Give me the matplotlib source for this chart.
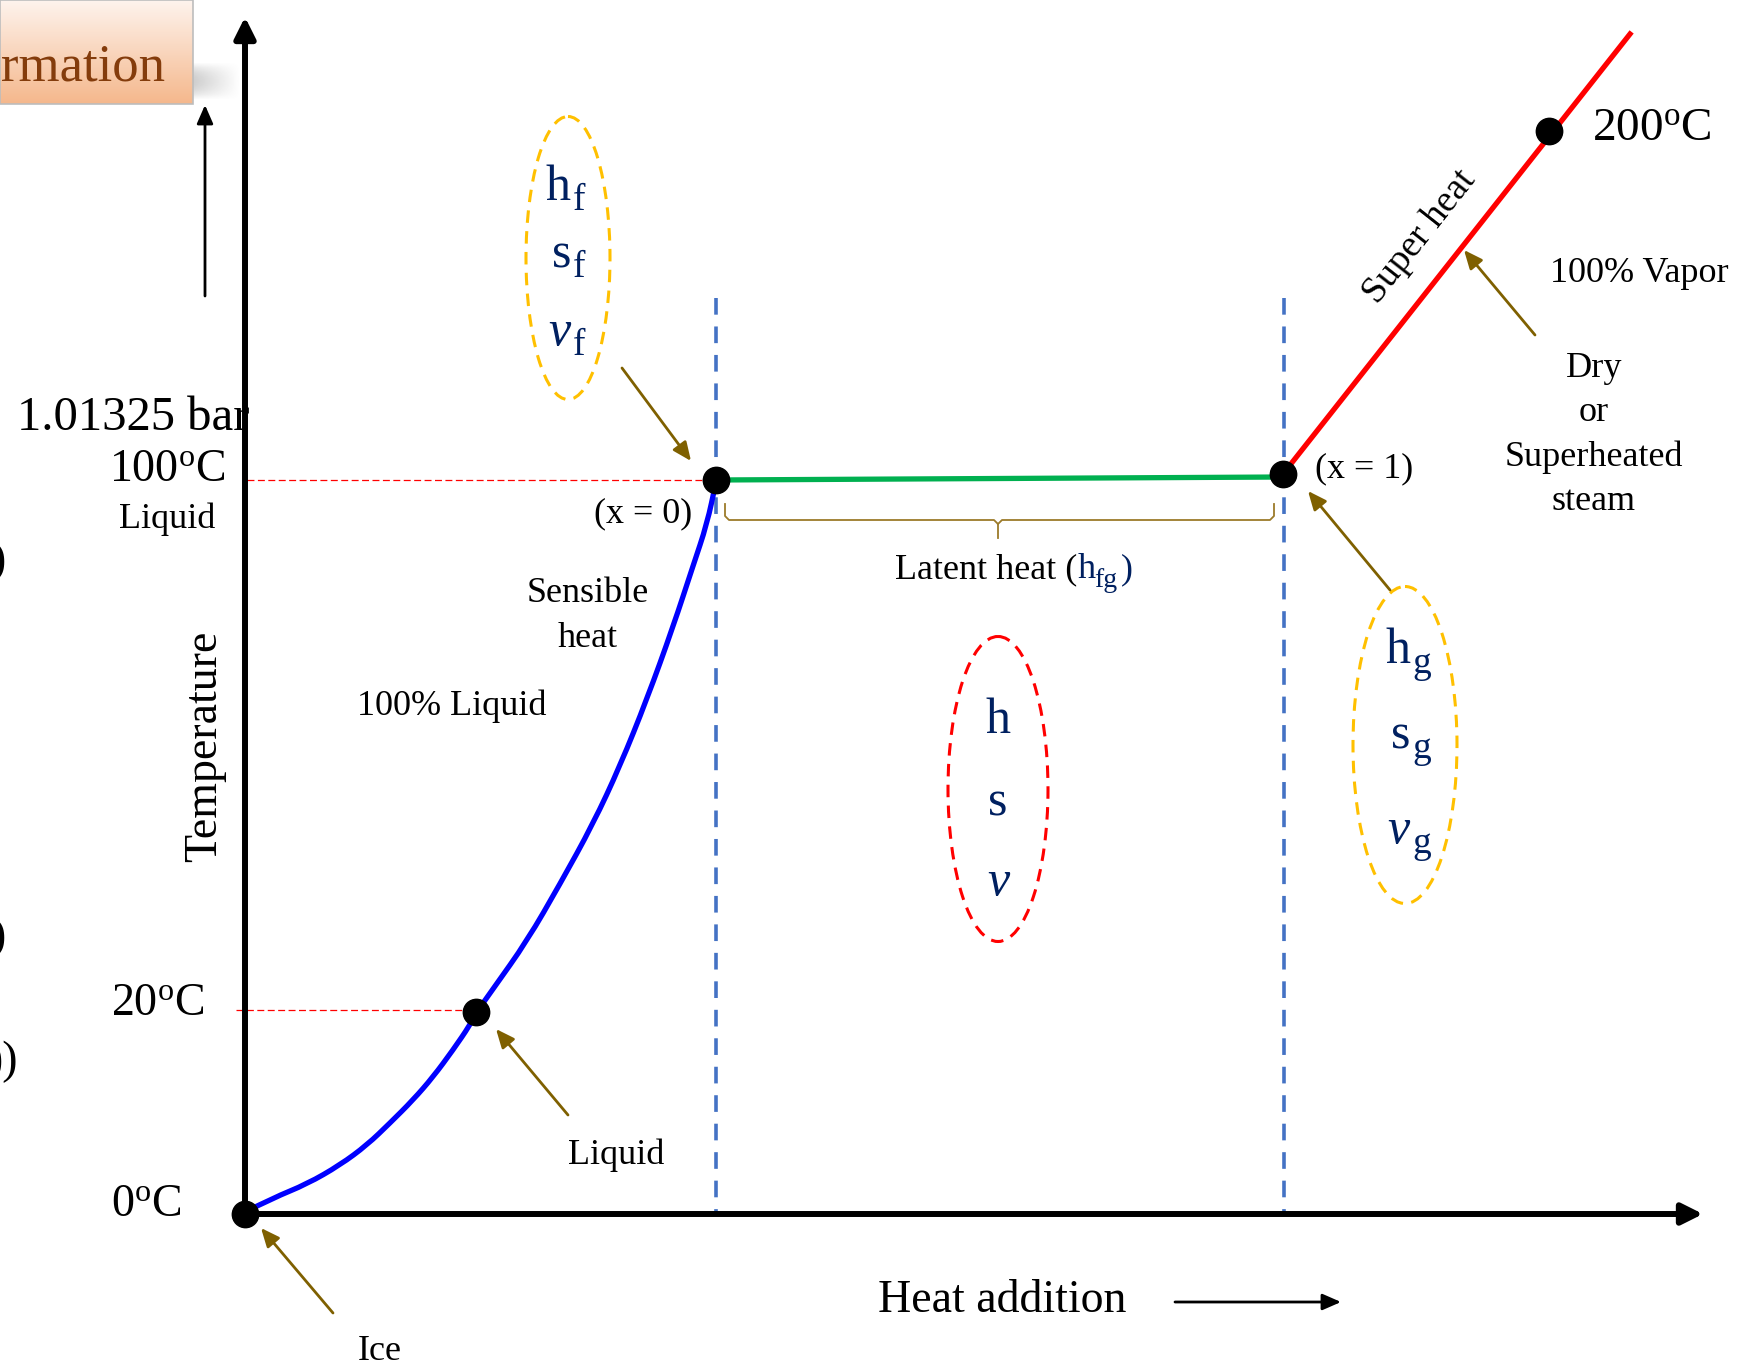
import numpy as np
import matplotlib
matplotlib.use("Agg")
import matplotlib.pyplot as plt
from matplotlib.patches import Ellipse, Rectangle, PathPatch
from matplotlib.path import Path

plt.rcParams['font.family'] = ['Liberation Serif', 'DejaVu Serif']
plt.rcParams['mathtext.fontset'] = 'custom'
plt.rcParams['mathtext.rm'] = 'Liberation Serif'
plt.rcParams['mathtext.it'] = 'Liberation Serif:italic'
plt.rcParams['lines.scale_dashes'] = False

# diagram coordinates (pixel-like units of the sketch, y grows downward)
origin = (245, 1214)
y_axis_top = 17
x_axis_end = 1703

# sensible heating curve (ice -> saturated liquid)
liq_x = [245, 273, 307, 340, 367, 390, 413, 433, 453, 470, 476, 493, 527, 560, 593,
         620, 647, 673, 693, 707, 716]
liq_y = [1212, 1198, 1184, 1165, 1145, 1123, 1100, 1077, 1050, 1025, 1013, 989, 941, 884, 824,
         766, 699, 627, 566, 524, 482]

# latent heat (x = 0 -> x = 1)
lat_x = [716, 1283]
lat_y = [480, 477]

# superheat line
sup_x = [1283, 1630]
sup_y = [474, 34]

# state points
pts_x = [245, 476, 716, 1283, 1549]
pts_y = [1214, 1012, 480, 474, 131]

# saturation boundaries
sat_x = [716, 1284]
sat_top, sat_bot = 298, 1214

# temperature guide lines
guide_y = [480, 1010]
guide_x0 = [247, 236]
guide_x1 = [716, 476]

temp_labels = ["0$^{\\rm o}$C", "20$^{\\rm o}$C", "100$^{\\rm o}$C"]
temp_lab_x = [146, 158, 167]
temp_lab_y = [1205, 1004, 470]

# property groups: letter, subscript, baseline
props_f = ["h", "s", "v"]
props_f_y = [200, 267, 345]
props_m_y = [733, 815, 895]
props_g_y = [663, 748, 843]

navy = '#002060'
brown = '#7F6000'

fig = plt.figure(figsize=(17.63, 13.70), dpi=100)
ax = fig.add_axes([0, 0, 1, 1])

# title box fragment at top-left
grad = np.linspace(0, 1, 100)[:, None, None]
top_c = np.array([0.995, 0.955, 0.93])
bot_c = np.array([0.96, 0.72, 0.55])
img = top_c * (1 - grad) + bot_c * grad
img = np.repeat(img, 2, axis=1)
ax.imshow(img, extent=[0, 193, 104, 0], aspect='auto', zorder=1)
ax.add_patch(Rectangle((0, 0), 193, 104, fill=False, ec='#bdbdbd', lw=1.2, zorder=2))
sh = np.zeros((30, 60, 4))
sh[..., :3] = 0.45
xx = np.linspace(0, 1, 60)[None, :]
yy = np.linspace(-1, 1, 30)[:, None]
sh[..., 3] = 0.35 * (1 - xx) * (1 - yy ** 2)
ax.imshow(sh, extent=[193, 240, 100, 62], aspect='auto', zorder=1)
ax.text(1, 80, "rmation", fontsize=38, color='#843C0C', ha='left', va='baseline', zorder=3)

# left edge fragments
for yy_ in [562, 938]:
    ax.text(6, yy_, ")", fontsize=33, ha='right', va='center')
ax.text(18, 1062, "))", fontsize=33, ha='right', va='center')

# axes with arrows
big_head = '-|>,head_length=0.9,head_width=0.45'
small_head = '-|>,head_length=0.8,head_width=0.35'
ax.annotate("", xy=(origin[0], y_axis_top), xytext=(origin[0], origin[1] + 3),
            arrowprops=dict(arrowstyle=big_head, color='black', lw=4.3,
                            mutation_scale=14, shrinkA=0, shrinkB=0))
ax.annotate("", xy=(x_axis_end, origin[1]), xytext=(origin[0] - 3, origin[1]),
            arrowprops=dict(arrowstyle=big_head, color='black', lw=4.3,
                            mutation_scale=14, shrinkA=0, shrinkB=0))
ax.annotate("", xy=(205, 105), xytext=(205, 296),
            arrowprops=dict(arrowstyle=small_head, color='black', lw=2,
                            mutation_scale=14, shrinkA=0, shrinkB=0))
ax.annotate("", xy=(1341, 1302), xytext=(1175, 1302),
            arrowprops=dict(arrowstyle=small_head, color='black', lw=2,
                            mutation_scale=14, shrinkA=0, shrinkB=0))

# guide lines
for gy, g0, g1 in zip(guide_y, guide_x0, guide_x1):
    ax.plot([g0, g1], [gy, gy], color='red', lw=0.9, ls=(0, (5, 2.5)), zorder=2)

# saturation boundaries
for sx in sat_x:
    ax.plot([sx, sx], [sat_top, sat_bot], color='#4472C4', lw=2.6, ls=(0, (12, 8.5)), zorder=2)

# sensible heat curve, smoothed with quadratic bezier segments through the read points
pts = np.column_stack([liq_x, liq_y]).astype(float)
verts = [pts[0]]
codes = [Path.MOVETO]
for i in range(1, len(pts) - 1):
    verts += [pts[i], (pts[i] + pts[i + 1]) / 2]
    codes += [Path.CURVE3, Path.CURVE3]
verts.append(pts[-1])
codes.append(Path.LINETO)
ax.add_patch(PathPatch(Path(verts, codes), fill=False, ec='#0000FF', lw=3.8, zorder=4,
                       capstyle='round'))

ax.plot(lat_x, lat_y, color='#00B050', lw=3.8, zorder=4)
ax.plot(sup_x, sup_y, color='#FF0000', lw=3.8, zorder=4)
ax.plot(pts_x, pts_y, 'o', color='black', ms=19, zorder=5)

# brace for latent heat
bc = '#9C7B2A'
ax.plot([725, 725, 729, 994, 998, 998], [504, 516, 520, 520, 524, 538], color=bc, lw=1.3)
ax.plot([998, 1002, 1270, 1274, 1274], [524, 520, 520, 516, 504], color=bc, lw=1.3)

# property ellipses
ax.add_patch(Ellipse((568, 258), 84, 283, fill=False, ec='#FFC000', lw=2.2, ls=(0, (9, 6))))
ax.add_patch(Ellipse((998, 789), 100, 305, fill=False, ec='#FF0000', lw=2.2, ls=(0, (9, 6))))
ax.add_patch(Ellipse((1405, 745), 104, 317, fill=False, ec='#FFC000', lw=2.2, ls=(0, (9, 6))))


def prop_text(x_split, y, letter, sub):
    style = 'italic' if letter == 'v' else 'normal'
    ax.text(x_split, y, letter, fontsize=36, color=navy, ha='right', va='baseline',
            fontstyle=style)
    if sub:
        ax.text(x_split + 2, y + 10, sub, fontsize=27, color=navy, ha='left', va='baseline')


for l, y in zip(props_f, props_f_y):
    prop_text(571, y, l, "f")
for l, y in zip(props_f, props_m_y):
    style = 'italic' if l == 'v' else 'normal'
    ax.text(998, y, l, fontsize=36, color=navy, ha='center', va='baseline', fontstyle=style)
for l, y in zip(props_f, props_g_y):
    prop_text(1410, y, l, "g")

# brown pointer arrows
arrows = [((333, 1313), (261, 1228)), ((568, 1115), (496, 1029)), ((622, 368), (691, 461)),
          ((1390, 590), (1308, 491)), ((1535, 335), (1464, 250))]
for (x0, y0), (x1, y1) in arrows:
    ax.annotate("", xy=(x1, y1), xytext=(x0, y0),
                arrowprops=dict(arrowstyle=small_head, color=brown, lw=2,
                                mutation_scale=14, shrinkA=0, shrinkB=0))

# labels
for t, x, y in zip(temp_labels, temp_lab_x, temp_lab_y):
    ax.text(x, y, t, fontsize=33, ha='center', va='center')
ax.text(17, 430, "1.01325 bar", fontsize=35, ha='left', va='baseline', zorder=0)
ax.text(167, 519, "Liquid", fontsize=26, ha='center', va='center')
ax.text(205, 746, "Temperature", fontsize=33, rotation=90, ha='center', va='center')
ax.text(1002, 1301, "Heat addition", fontsize=33, ha='center', va='center')
ax.text(380, 1351, "Ice", fontsize=26, ha='center', va='center')
ax.text(616, 1155, "Liquid", fontsize=26, ha='center', va='center')
ax.text(588, 616, "Sensible\nheat", fontsize=26, ha='center', va='center', linespacing=1.45)
ax.text(452, 706, "100% Liquid", fontsize=26, ha='center', va='center')
ax.text(643, 514, "(x = 0)", fontsize=26, ha='center', va='center')
ax.text(1364, 469, "(x = 1)", fontsize=26, ha='center', va='center')
ax.text(1077, 578, "Latent heat (", fontsize=26, ha='right', va='baseline')
ax.text(1078, 578, "h", fontsize=26, color=navy, ha='left', va='baseline')
ax.text(1094, 587, "fg", fontsize=20, color=navy, ha='left', va='baseline')
ax.text(1121, 578, ")", fontsize=26, color=navy, ha='left', va='baseline')
ax.text(1420, 237, "Super heat", fontsize=27, rotation=51.7, ha='center', va='center',
        rotation_mode='anchor')
ax.text(1652, 129, "200$^{\\rm o}$C", fontsize=34, ha='center', va='center')
ax.text(1639, 273, "100% Vapor", fontsize=26, ha='center', va='center')
ax.text(1594, 435, "Dry\nor\nSuperheated\nsteam", fontsize=26, ha='center', va='center',
        linespacing=1.45)

ax.set_xlim(0, 1763)
ax.set_ylim(1370, 0)
ax.axis('off')
fig.savefig("out.png", dpi=100)
